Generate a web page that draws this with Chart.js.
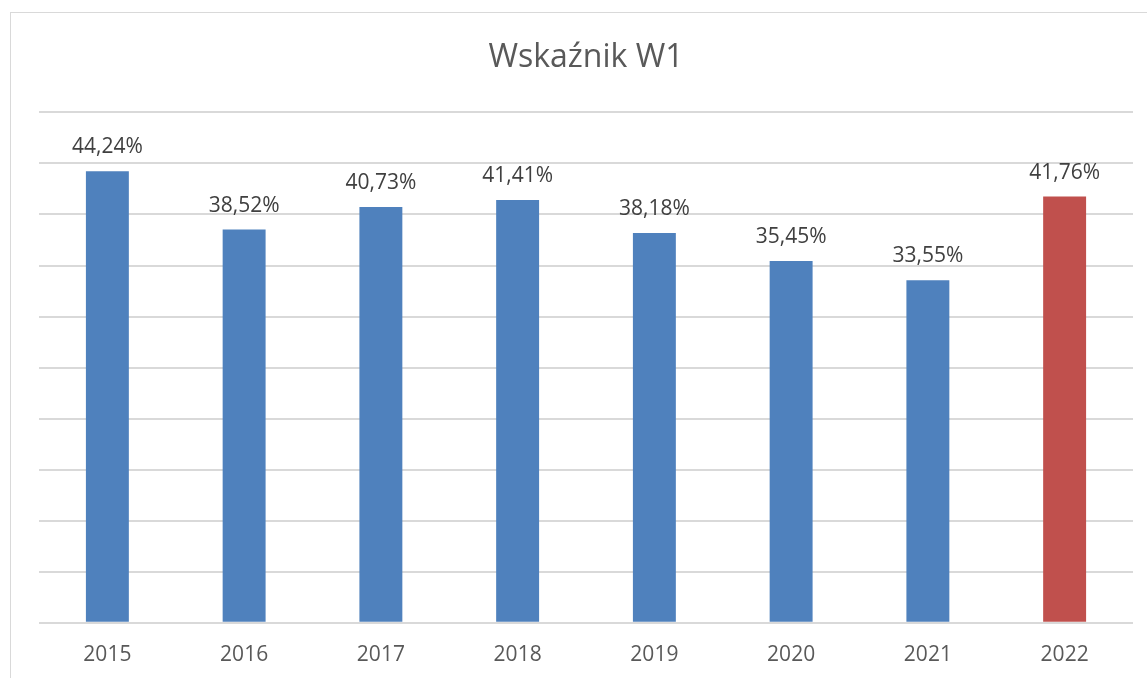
<!DOCTYPE html>
<html>
<head>
<meta charset="utf-8">
<script src="https://cdn.jsdelivr.net/npm/chart.js@4"></script>
<style>
  html, body { margin: 0; padding: 0; background: #fff; overflow: hidden; }
  #frame {
    position: absolute; left: 10px; top: 12px;
    width: 1200px; height: 720px;
    border: 1px solid #d9d9d9;
  }
  #chart-w1 { position: absolute; left: 0; top: 0; }
</style>
</head>
<body>
<div id="frame"></div>
<canvas id="chart-w1" width="1147" height="680"></canvas>
<script>
// Wskaźnik W1 – yearly values, last year highlighted
const years = ['2015', '2016', '2017', '2018', '2019', '2020', '2021', '2022'];
const w1Values = [44.24, 38.52, 40.73, 41.41, 38.18, 35.45, 33.55, 41.76];
const barColors = ['#4f81bd', '#4f81bd', '#4f81bd', '#4f81bd', '#4f81bd', '#4f81bd', '#4f81bd', '#c0504d'];

const FONT = "'Open Sans', sans-serif";

function formatPct(v) {
    return v.toFixed(2).replace('.', ',') + '%';
}

// simple value labels above each bar
const valueLabels = {
    id: 'valueLabels',
    afterDatasetsDraw(chart) {
        const ctx = chart.ctx;
        const meta = chart.getDatasetMeta(0);
        ctx.save();
        ctx.font = '21px ' + FONT;
        ctx.fillStyle = '#404040';
        ctx.textAlign = 'center';
        ctx.textBaseline = 'alphabetic';
        meta.data.forEach((bar, i) => {
            ctx.fillText(formatPct(w1Values[i]), bar.x, bar.y - 18);
        });
        ctx.restore();
    },
};

new Chart(document.getElementById('chart-w1'), {
    type: 'bar',
    data: {
        labels: years,
        datasets: [{
            label: 'Wskaźnik W1',
            data: w1Values,
            backgroundColor: barColors,
            borderWidth: 0,
            barPercentage: 0.314,
            categoryPercentage: 1.0,
        }],
    },
    options: {
        responsive: false,
        animation: false,
        devicePixelRatio: 1,
        layout: {
            padding: { left: 39, right: 14, top: 0, bottom: 0 },
        },
        plugins: {
            legend: { display: false },
            tooltip: { enabled: false },
            title: {
                display: true,
                text: 'Wskaźnik W1',
                color: '#595959',
                font: { family: FONT, size: 32, weight: 'normal' },
                padding: { top: 39, bottom: 35 },
            },
        },
        scales: {
            x: {
                grid: { display: false },
                border: { display: false },
                ticks: {
                    color: '#595959',
                    font: { family: FONT, size: 21 },
                    padding: 12,
                },
            },
            y: {
                min: 0,
                max: 50,
                ticks: { display: false, stepSize: 5 },
                border: { display: false },
                grid: { color: '#d9d9d9', lineWidth: 2, drawTicks: false },
            },
        },
    },
    plugins: [valueLabels],
});
</script>
</body>
</html>
